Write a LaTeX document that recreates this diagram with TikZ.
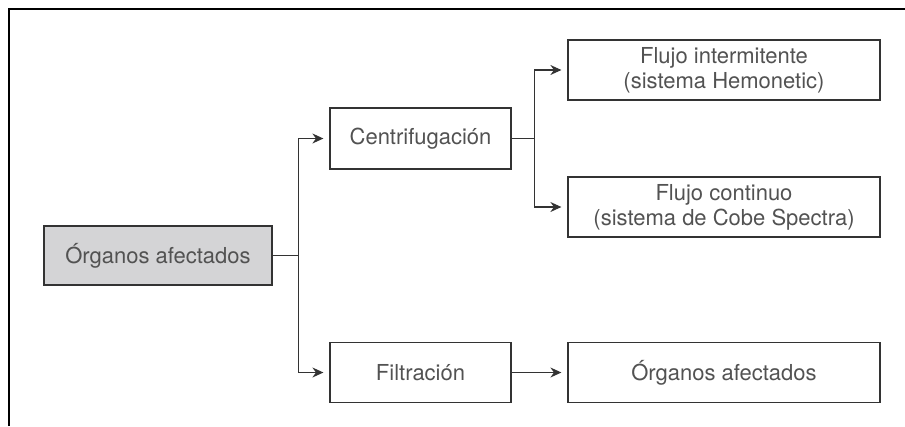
\documentclass[tikz,border=0pt]{standalone}
\usepackage{fontspec}
\setmainfont{TeX Gyre Heros}
\usetikzlibrary{arrows.meta}

\definecolor{ink}{HTML}{333333}
\definecolor{boxgrey}{HTML}{D4D4D6}

\begin{document}
\begin{tikzpicture}[x=1pt, y=-1pt,
  box/.style={draw=ink, line width=1.2pt, inner sep=0pt, text=ink!85,
    align=center, font=\fontsize{22}{25}\selectfont},
  link/.style={draw=ink, line width=1.1pt, -{Stealth[length=11pt,width=10pt]},
    shorten >=6pt}]
  \useasboundingbox (0,0) rectangle (905,426);

  % frame
  \draw[black, line width=1.2pt] (9,426) -- (9,9) -- (905,9);

  % boxes
  \node[box, fill=boxgrey, minimum width=228pt, minimum height=59pt] (org) at (158,255.5) {Órganos afectados};
  \node[box, minimum width=181pt, minimum height=61pt] (cen) at (420.5,138.5) {Centrifugación};
  \node[box, minimum width=181pt, minimum height=60pt] (fil) at (420.5,372.5) {Filtración};
  \foreach \name/\y/\txt in {hem/70/{Flujo intermitente\\(sistema Hemonetic)},
                             cob/207/{Flujo continuo\\(sistema de Cobe Spectra)},
                             out/372.5/{Órganos afectados}} {
    \node[box, minimum width=312pt, minimum height=60pt] (\name) at (724,\y) {\txt};
  }

  % branches
  \draw[link] (org.east) -- ++(26,0) |- (cen.west);
  \draw[link] (org.east) -- ++(26,0) |- (fil.west);
  \draw[link] (cen.east) -- ++(23,0) |- (hem.west);
  \draw[link] (cen.east) -- ++(23,0) |- (cob.west);
  \draw[link] (fil.east) -- (out.west);
\end{tikzpicture}
\end{document}
